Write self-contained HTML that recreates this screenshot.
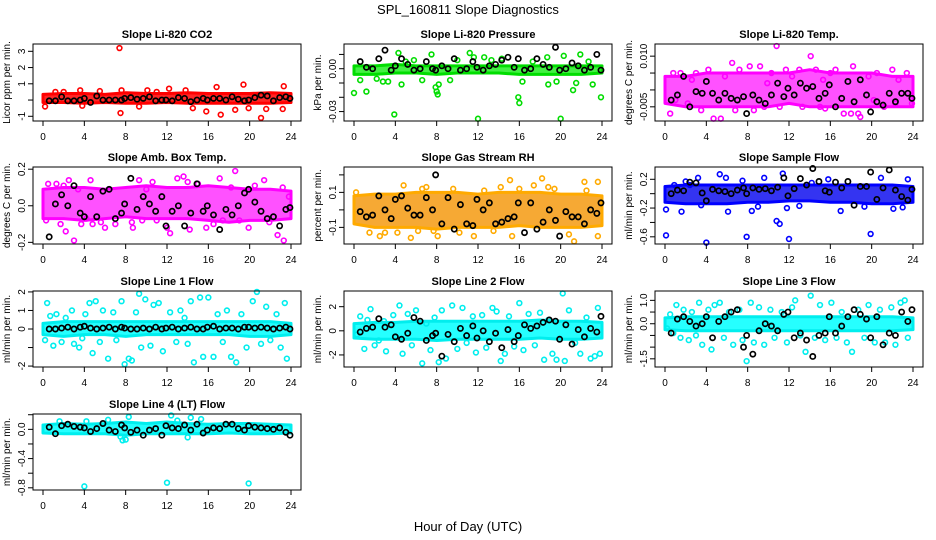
<!DOCTYPE html>
<html><head><meta charset="utf-8"><style>
html,body{margin:0;padding:0;background:#fff;}
svg{display:block;font-family:"Liberation Sans",sans-serif;}
</style></head><body>
<svg id="chart" width="936" height="540" viewBox="0 0 936 540" xmlns="http://www.w3.org/2000/svg">
<rect x="0" y="0" width="936" height="540" fill="#fff"/>
<text x="468" y="14" text-anchor="middle" font-size="13">SPL_160811  Slope Diagnostics</text>
<text x="468" y="531" text-anchor="middle" font-size="13">Hour of Day (UTC)</text>
</svg>
<script>
// shared categories
const bandHours = [0,2,4,6,8,10,12,14,16,18,20,22,24];
const blkHours = [0.6,1.2,1.8,2.4,3.0,3.6,4.0,4.6,5.2,5.8,6.4,7.0,7.6,7.9,8.5,9.1,9.7,10.3,10.9,11.5,11.9,12.5,13.1,13.7,14.3,14.9,15.5,15.9,16.5,17.1,17.7,18.3,18.9,19.5,19.9,20.5,21.1,21.7,22.3,22.9,23.5,23.9];
const xTickLabels = [0,4,8,12,16,20,24];

// P1 CO2
const co2BandHi = [0.35,0.4,0.4,0.35,0.45,0.4,0.4,0.45,0.4,0.4,0.4,0.45,0.4];
const co2BandLo = [-0.15,-0.15,-0.2,-0.15,-0.2,-0.2,-0.15,-0.2,-0.2,-0.2,-0.2,-0.2,-0.15];
const co2OutX = [0.2,1.2,3.6,3.8,7.4,7.5,7.6,9.3,10.1,12.2,13.8,14.5,15.8,16.8,17.2,18.6,19.4,19.9,21.1,21.6,23.2,23.3,2.0,5.5,11.0];
const co2OutY = [-0.4,0.5,0.6,-0.35,3.2,-0.8,0.6,-0.4,0.6,0.7,0.6,-0.5,-0.7,0.8,-0.9,-0.6,0.95,-0.5,-1.1,-0.55,-0.55,0.85,0.5,0.55,0.5];
const co2BlkY = [-0.05,-0.05,0.2,-0.05,-0.05,0,0.1,-0.15,0.25,0,0,0,0,0.1,0.15,0.05,0.1,0.2,-0.05,0,0,-0.05,0.15,0.1,-0.1,0,0.1,0,0.1,0.1,0,0.2,0.05,-0.05,0,0.15,0.3,0.25,-0.05,0.15,0.2,0.1];
const co2Ticks = [-1,0,1,2,3];
const co2TickLabels = ["-1","","1","2","3"];

// P2 Pressure
const presBandHi = [0.002,0.002,0.003,0.002,0.002,0.002,0.002,0.002,0.002,0.002,0.002,0.002,0.002];
const presBandLo = [-0.004,-0.004,-0.003,-0.003,-0.004,-0.003,-0.003,-0.003,-0.004,-0.004,-0.004,-0.004,-0.003];
const presOutX = [0,0.6,1.2,2.2,2.8,3.3,3.9,4.3,4.6,5.0,6.6,7.5,7.9,8.0,8.1,8.2,9.3,11.2,11.6,12.0,12.6,13.3,15.9,16.0,16.3,17.3,18.7,18.8,19.6,20.0,20.3,21.2,21.5,21.9,22.7,23.1,23.9,5.8,14.3,10.0];
const presOutY = [-0.017,-0.008,-0.016,-0.007,-0.009,-0.009,-0.032,0.011,-0.011,0.005,-0.008,0.010,-0.013,-0.016,-0.018,-0.011,-0.008,0.011,0.008,-0.035,0.008,0.006,-0.020,-0.024,-0.009,0.005,0.008,-0.011,-0.009,-0.035,0.009,-0.015,-0.010,0.010,0.005,-0.011,-0.020,0.006,0.007,0.006];
const presBlkY = [0.005,0.001,0,0.007,0.013,-0.001,0.002,0.007,0.003,-0.001,0,0.005,0,-0.001,0.002,0,0.007,-0.001,0,0.005,0.001,-0.001,0.002,0.003,0.006,0.008,0.001,0.007,-0.001,0,0.007,0.003,0.001,0.015,-0.001,0,0.004,0.002,-0.001,0.001,0.010,-0.001];
const presTicks = [0.01,0,-0.01,-0.02,-0.03];
const presTickLabels = ["","0.00","","","-0.03"];

// P3 Li-820 Temp
const tempBandHi = [0.004,0.004,0.005,0.005,0.005,0.005,0.005,0.006,0.005,0.005,0.005,0.004,0.004];
const tempBandLo = [-0.004,-0.005,-0.005,-0.005,-0.005,-0.005,-0.004,-0.005,-0.005,-0.005,-0.005,-0.005,-0.005];
const tempOutX = [0.5,0.8,1.5,2.2,3.0,3.5,4.2,4.7,5.4,5.8,6.5,6.8,7.2,8.2,8.6,9.2,9.6,10.3,10.8,11.1,11.7,12.3,13.3,14.1,14.6,15.0,15.3,15.5,16.5,17.3,18.0,18.2,18.7,18.9,19.7,20.5,21.2,22.0,22.6,23.4,23.9,1.0,2.6,9.9,13.0,16.0,20.2,22.3];
const tempOutY = [-0.007,0.005,0.005,-0.004,0.005,-0.006,0.006,-0.0085,-0.0085,0.004,0.008,-0.006,0.006,0.007,-0.006,0.007,-0.005,0.005,0.013,-0.005,0.006,0.004,-0.005,0.010,0.006,-0.005,0.003,-0.0055,0.006,-0.007,-0.007,0.007,-0.007,-0.008,0.004,0.005,-0.005,0.006,0.003,0.005,-0.004,-0.003,0.003,0.002,0.006,0.005,-0.003,-0.004];
const tempBlkY = [-0.003,-0.0015,0.004,-0.005,-0.0005,-0.001,0.0025,-0.001,-0.003,-0.001,-0.0025,-0.003,-0.002,-0.007,-0.0015,-0.003,-0.004,-0.0015,0.002,-0.002,0.0005,-0.0015,0.002,0.0005,0.001,-0.0025,-0.001,0.0015,-0.005,-0.0025,0.0025,-0.0035,0.003,-0.0015,-0.0065,-0.0035,-0.0045,-0.001,-0.0035,-0.001,-0.001,-0.0025];
const tempTicks = [0.010,0.005,0,-0.005];
const tempTickLabels = ["0.010","","","-0.005"];

// P4 Amb Box Temp
const boxBandHi = [0.09,0.1,0.1,0.09,0.1,0.11,0.1,0.1,0.11,0.1,0.09,0.09,0.08];
const boxBandLo = [-0.07,-0.07,-0.08,-0.07,-0.06,-0.07,-0.07,-0.07,-0.08,-0.09,-0.08,-0.08,-0.07];
const boxOutX = [0.3,0.5,1.3,1.7,2.0,2.2,2.5,3.0,3.4,3.7,4.6,4.8,5.6,6.0,6.4,7.0,8.6,8.7,9.3,9.6,10.0,10.6,11.0,12.0,12.3,13.0,13.6,14.2,15.0,15.8,16.5,17.1,17.4,18.2,18.6,19.0,19.9,20.5,21.4,21.9,22.7,23.2,23.3,23.8,4.2,14.0];
const boxOutY = [-0.08,0.12,0.12,-0.10,0.11,-0.14,0.14,-0.19,0.09,-0.10,0.14,-0.10,-0.09,-0.12,0.09,-0.10,-0.09,-0.12,0.14,-0.08,0.09,0.13,-0.08,-0.12,-0.15,0.15,0.16,-0.13,0.12,-0.12,-0.10,0.15,-0.08,0.10,0.19,-0.08,-0.12,0.11,0.14,-0.09,-0.16,0.10,-0.19,0.05,-0.07,0.13];
const boxBlkY = [-0.17,0.01,0.06,0,0.11,-0.04,-0.06,0.05,-0.06,0.08,0.09,-0.07,-0.04,0.01,0.15,-0.02,0.05,0.01,-0.03,0.05,-0.11,-0.03,0,-0.11,-0.04,0.12,-0.03,0,-0.05,-0.13,-0.02,-0.05,0,0.07,0.09,0.02,-0.03,-0.07,-0.06,-0.11,-0.02,-0.01];
const boxTicks = [0.2,0,-0.2];
const boxTickLabels = ["0.2","0.0","-0.2"];

// P5 Gas Stream RH
const rhBandHi = [0.08,0.09,0.09,0.1,0.1,0.1,0.09,0.1,0.1,0.1,0.09,0.09,0.08];
const rhBandLo = [-0.08,-0.1,-0.1,-0.1,-0.11,-0.1,-0.1,-0.1,-0.09,-0.1,-0.1,-0.1,-0.09];
const rhOutX = [0.2,1.5,2.5,3.0,4.2,4.8,5.5,6.2,7.0,7.7,8.1,9.6,10.2,11.6,13.5,14.2,15.1,15.3,16.0,17.4,18.2,18.8,19.4,20.8,21.3,22.3,22.5,23.6,23.6,12.6,6.6];
const rhOutY = [0.1,-0.13,-0.15,-0.13,-0.13,0.14,-0.16,-0.12,0.13,-0.12,-0.15,0.12,-0.13,-0.15,-0.12,0.13,0.17,-0.15,0.12,0.14,0.18,0.13,0.12,-0.14,-0.18,0.16,0.11,0.16,-0.15,0.11,0.12];
const rhBlkY = [-0.01,-0.04,-0.03,0.08,0,-0.05,0.06,0.08,0.01,-0.03,-0.03,0.07,0,0.2,-0.08,0.07,-0.11,0.03,-0.08,-0.09,0.06,0,0.04,-0.08,-0.07,-0.05,-0.04,0.04,-0.13,0.04,-0.11,-0.07,0,-0.06,-0.15,-0.01,-0.04,-0.04,-0.08,0,-0.02,0.04];
const rhTicks = [0.2,0.1,0,-0.1];
const rhTickLabels = ["","0.1","","-0.1"];

// P6 Sample Flow
const sfBandHi = [0.1,0.12,0.12,0.12,0.12,0.12,0.12,0.12,0.12,0.12,0.12,0.12,0.1];
const sfBandLo = [-0.12,-0.14,-0.14,-0.14,-0.12,-0.12,-0.1,-0.1,-0.12,-0.12,-0.14,-0.14,-0.12];
const sfOutX = [0.1,0.1,0.9,1.6,2.4,3.2,3.5,4.0,5.3,5.9,6.1,7.5,7.9,8.4,9.6,10.8,11.1,11.4,11.8,12.0,13.0,15.8,17.0,19.3,19.9,20.9,22.1,23.0,23.5,2.0,14.2,9.0];
const sfOutY = [-0.22,-0.58,0.12,-0.25,0.12,0.22,-0.16,-0.68,0.27,0.22,-0.25,0.18,-0.6,-0.24,0.22,-0.38,-0.42,0.28,-0.20,-0.63,-0.17,0.2,-0.24,-0.18,-0.56,0.22,-0.21,-0.19,0.2,0.17,0.15,-0.18];
const sfBlkY = [0,0.05,0.04,0.16,0.15,0.01,-0.1,0.06,0.04,0.03,0,0.05,0.08,0,0.08,0.06,0.07,0.04,0.09,0.22,-0.03,0.07,0.21,0.12,0.35,0.17,0.04,0.02,0.16,0.08,0.17,-0.16,0.1,0.1,0.3,-0.08,0.08,0.33,0.05,-0.04,-0.09,0.06];
const sfTicks = [0.2,0,-0.2,-0.4,-0.6];
const sfTickLabels = ["0.2","","-0.2","","-0.6"];

// P7 Line 1
const l1BandHi = [0.3,0.4,0.4,0.4,0.4,0.4,0.4,0.4,0.4,0.4,0.4,0.4,0.3];
const l1BandLo = [-0.3,-0.4,-0.3,-0.3,-0.4,-0.3,-0.3,-0.3,-0.3,-0.3,-0.4,-0.4,-0.3];
const l1OutX = [0.2,0.4,0.7,1.0,1.3,1.8,2.2,2.8,3.0,3.5,4.1,4.5,4.8,5.1,5.5,5.8,6.3,6.8,7.1,7.6,7.9,8.3,8.6,9.0,9.3,9.5,9.9,10.4,10.7,11.2,11.6,12.3,12.9,13.3,14.0,14.3,14.6,15.2,15.5,16.0,16.5,16.9,17.4,17.8,18.2,18.7,19.2,19.7,20.3,20.7,21.1,21.6,22.0,22.6,23.0,23.4,23.6,3.8,13.7];
const l1OutY = [-0.6,1.4,0.7,-0.9,0.8,-0.7,0.6,1.0,-0.8,-1.0,0.8,1.4,-1.3,1.5,-0.7,1.0,-1.6,0.9,-0.6,1.5,-1.9,-1.6,-1.7,0.9,1.9,-1.0,1.6,-0.9,1.3,1.4,-1.2,0.9,-0.7,1.0,-0.8,1.5,-1.8,1.7,-1.5,1.7,-1.5,0.8,-0.7,1.0,-1.5,-1.8,0.8,-1.0,1.5,2.0,-0.8,1.2,-0.6,0.8,-1.0,1.4,-1.6,-0.5,0.6];
const l1BlkY = [0,0,0.05,0.1,0,0.1,0.15,0.05,0,0.05,0.1,0,0.1,0.05,0,0,0.05,0,0.1,0,0.05,0.1,0,0.05,0.1,0,0,0.1,0.15,0,0.05,0.05,0,0.1,0.1,0.05,0.1,0.05,0,0.05,0.1,0];
const l1Ticks = [2,1,0,-1,-2];
const l1TickLabels = ["2","1","0","","-2"];

// P8 Line 2
const l2BandHi = [0.6,0.7,0.7,0.8,0.8,0.8,0.8,0.8,0.8,0.9,0.8,0.8,0.7];
const l2BandLo = [-0.6,-0.7,-0.7,-0.7,-0.8,-0.7,-0.7,-0.7,-0.7,-0.6,-0.7,-0.7,-0.6];
const l2OutX = [0.3,0.6,1.0,1.3,1.6,2.0,2.4,2.9,3.1,3.8,4.4,4.7,5.2,5.6,6.0,6.6,7.0,7.4,7.8,8.2,8.5,8.9,9.5,10.0,10.5,10.9,11.5,11.8,12.4,12.8,13.4,13.8,14.2,14.6,15.0,15.5,16.0,16.4,16.9,17.5,18.0,18.4,18.8,19.2,19.6,20.2,20.4,20.8,21.4,21.9,22.5,22.9,23.3,23.6,23.8];
const l2OutY = [-0.3,1.2,-1.5,0.9,1.8,-1.2,-0.8,0.8,-1.7,1.3,2.1,-1.9,1.4,-1.2,1.7,-2.7,0.6,-1.6,1.1,-2.6,1.7,-2.3,2.1,-1.5,1.9,-1.0,1.2,-1.8,1.3,-1.4,1.9,1.6,-2.5,-1.9,1.2,-1.3,2.3,-1.6,1.4,-1.2,1.5,-2.4,0.9,-1.9,-2.4,3.1,-2.5,1.7,-1.0,-1.9,1.1,-2.3,-2.1,1.9,-1.9];
const l2BlkY = [-0.1,0.2,0.3,1.0,0.3,0.5,-0.5,-0.7,-0.2,1.1,0.8,-0.8,-0.4,-0.2,-2.1,-0.3,-0.9,0.2,-0.4,0.4,-0.6,0,-0.9,-0.2,-1.4,0.1,-0.9,-0.4,0.5,0.2,0.4,0.7,0.9,0.8,-0.7,0.5,-1.1,0.1,-0.5,0.2,-0.1,1.2];
const l2Ticks = [2,0,-2];
const l2TickLabels = ["2","0","-2"];

// P9 Line 3
const l3BandHi = [0.25,0.3,0.3,0.3,0.3,0.3,0.3,0.3,0.3,0.3,0.3,0.3,0.25];
const l3BandLo = [-0.25,-0.3,-0.3,-0.3,-0.3,-0.3,-0.3,-0.3,-0.3,-0.3,-0.3,-0.3,-0.25];
const l3OutX = [0.2,0.5,0.8,1.1,1.5,1.8,2.3,2.6,3.0,3.3,3.6,4.2,4.5,4.8,5.3,5.7,6.2,6.6,7.2,7.5,7.9,8.3,8.6,9.1,9.6,10.2,10.6,11.3,11.8,12.3,12.6,13.1,13.6,14.1,14.5,15.0,15.5,16.1,16.6,17.1,17.6,18.1,18.7,19.3,19.7,20.3,20.8,21.3,21.9,22.3,22.8,23.2,23.5];
const l3OutY = [-0.2,0.4,-0.4,0.8,-0.6,0.6,-0.7,0.5,-0.5,0.9,-0.9,0.6,-1.1,0.8,0.9,-0.6,0.5,-0.9,0.6,-0.7,-1.6,0.9,-0.8,0.7,-0.9,0.6,-0.6,0.5,-0.8,0.7,1.0,-0.5,-1.2,1.2,-0.6,0.8,-0.7,0.9,-0.6,0.5,-0.8,-1.2,0.6,-0.6,0.8,-0.8,0.6,-0.8,0.7,-0.9,0.9,1.0,-0.6];
const l3BlkY = [-0.4,0.2,0.3,0.1,-0.1,0,0.3,-0.6,0.1,0.3,0.5,0.6,-1.0,-0.5,-1.3,-0.3,0,-0.1,-0.3,0.4,0.5,-0.6,-0.4,-0.7,-1.4,-0.5,-0.4,0.3,-0.4,-0.1,0.3,0.6,0.4,0.2,-0.6,0.3,-0.9,-0.4,-0.5,0.5,0.1,0.6];
const l3Ticks = [1.0,0.5,0,-0.5,-1.0,-1.5];
const l3TickLabels = ["1.0","","0.0","","","-1.5"];

// P10 Line 4
const l4BandHi = [0.06,0.08,0.07,0.08,0.1,0.08,0.1,0.08,0.07,0.08,0.08,0.07,0.06];
const l4BandLo = [-0.05,-0.06,-0.06,-0.06,-0.08,-0.06,-0.06,-0.06,-0.06,-0.05,-0.06,-0.06,-0.05];
const l4OutX = [4.0,12.0,19.9,7.7,8.0,7.5,8.3,12.4,13.0,14.3,15.3,14.0,6.3,4.2,1.6];
const l4OutY = [-0.78,-0.73,-0.74,-0.15,-0.14,-0.1,0.17,0.19,0.12,0.16,0.14,-0.11,0.13,0.11,0.11];
const l4BlkY = [0.03,-0.06,0.05,0.07,0.04,0.03,0.02,-0.03,0.01,0.08,-0.01,-0.03,0.06,0.02,-0.04,-0.01,-0.08,-0.01,0.01,-0.08,0.05,0.02,0.01,0.06,-0.01,0.07,-0.05,-0.01,0.02,0.01,0.07,0.07,0.01,-0.01,0.05,0.03,0.02,0.01,0,0.02,-0.04,-0.08];
const l4Ticks = [0.2,0,-0.2,-0.4,-0.6,-0.8];
const l4TickLabels = ["","0.0","","-0.4","","-0.8"];

const NS = "http://www.w3.org/2000/svg";
const svg = document.getElementById('chart');
function mk(tag, attrs, parent){const e=document.createElementNS(NS,tag);for(const k in attrs)e.setAttribute(k,attrs[k]);(parent||svg).appendChild(e);return e;}

const colX = [33,344,655];
const rowY = [[44,121],[167,244],[291,367],[414,490]];
const panels = [
 {key:'co2',title:'Slope Li-820 CO2',ylab:'Licor ppm per min.',c:0,r:0,dom:[-1.29,3.45],col:'#ff0000',band:'#ff0000',hi:co2BandHi,lo:co2BandLo,ox:co2OutX,oy:co2OutY,by:co2BlkY,t:co2Ticks,tl:co2TickLabels},
 {key:'pressure',title:'Slope Li-820 Pressure',ylab:'kPa per min.',c:1,r:0,dom:[-0.0366,0.0173],col:'#00dd00',band:'#22ee22',hi:presBandHi,lo:presBandLo,ox:presOutX,oy:presOutY,by:presBlkY,t:presTicks,tl:presTickLabels},
 {key:'li820-temp',title:'Slope Li-820 Temp.',ylab:'degrees C per min.',c:2,r:0,dom:[-0.0092,0.0136],col:'#ff00ff',band:'#ff33ff',hi:tempBandHi,lo:tempBandLo,ox:tempOutX,oy:tempOutY,by:tempBlkY,t:tempTicks,tl:tempTickLabels},
 {key:'amb-box-temp',title:'Slope Amb. Box Temp.',ylab:'degrees C per min.',c:0,r:1,dom:[-0.209,0.212],col:'#ff00ff',band:'#ff33ff',hi:boxBandHi,lo:boxBandLo,ox:boxOutX,oy:boxOutY,by:boxBlkY,t:boxTicks,tl:boxTickLabels},
 {key:'gas-rh',title:'Slope Gas Stream RH',ylab:'percent per min.',c:1,r:1,dom:[-0.195,0.245],col:'#ffaa00',band:'#f59a10',hi:rhBandHi,lo:rhBandLo,ox:rhOutX,oy:rhOutY,by:rhBlkY,t:rhTicks,tl:rhTickLabels},
 {key:'sample-flow',title:'Slope Sample Flow',ylab:'ml/min per min.',c:2,r:1,dom:[-0.70,0.371],col:'#0000ff',band:'#1111ee',hi:sfBandHi,lo:sfBandLo,ox:sfOutX,oy:sfOutY,by:sfBlkY,t:sfTicks,tl:sfTickLabels},
 {key:'line1-flow',title:'Slope Line 1 Flow',ylab:'ml/min per min.',c:0,r:2,dom:[-2.05,2.05],col:'#00eeee',band:'#00ffff',hi:l1BandHi,lo:l1BandLo,ox:l1OutX,oy:l1OutY,by:l1BlkY,t:l1Ticks,tl:l1TickLabels},
 {key:'line2-flow',title:'Slope Line 2 Flow',ylab:'ml/min per min.',c:1,r:2,dom:[-3.0,3.3],col:'#00eeee',band:'#00ffff',hi:l2BandHi,lo:l2BandLo,ox:l2OutX,oy:l2OutY,by:l2BlkY,t:l2Ticks,tl:l2TickLabels},
 {key:'line3-flow',title:'Slope Line 3 Flow',ylab:'ml/min per min.',c:2,r:2,dom:[-1.85,1.4],col:'#00eeee',band:'#00ffff',hi:l3BandHi,lo:l3BandLo,ox:l3OutX,oy:l3OutY,by:l3BlkY,t:l3Ticks,tl:l3TickLabels},
 {key:'line4-flow',title:'Slope Line 4 (LT) Flow',ylab:'ml/min per min.',c:0,r:3,dom:[-0.83,0.21],col:'#00eeee',band:'#00ffff',hi:l4BandHi,lo:l4BandLo,ox:l4OutX,oy:l4OutY,by:l4BlkY,t:l4Ticks,tl:l4TickLabels}
];

panels.forEach(p=>{
  const L=colX[p.c], R=L+268, T=rowY[p.r][0], B=rowY[p.r][1];
  const x0=L+10, x1=L+258;
  const xs=h=>x0+(x1-x0)*h/24;
  const ys=v=>B-(v-p.dom[0])/(p.dom[1]-p.dom[0])*(B-T);
  const g=mk('g',{});
  
  
  const t=mk('text',{x:(L+R)/2,y:T-6,'text-anchor':'middle','font-size':11,'font-weight':'bold'},g);
  t.textContent=p.title;
  
  
  // band
  let d='';
  bandHours.forEach((h,i)=>{d+=(i?'L':'M')+xs(h).toFixed(1)+','+ys(p.hi[i]).toFixed(1);});
  for(let i=bandHours.length-1;i>=0;i--) d+='L'+xs(bandHours[i]).toFixed(1)+','+ys(p.lo[i]).toFixed(1);
  const band=mk('path',{d:d+'Z',fill:p.band,'fill-opacity':0.85,stroke:p.col,'stroke-width':3,'stroke-linejoin':'round'},g);
  
  
  // outliers
  const n=Math.min(p.ox.length,p.oy.length);
  for(let i=0;i<n;i++){
    const c=mk('circle',{cx:xs(p.ox[i]),cy:ys(p.oy[i]),r:2.4,fill:'none',stroke:p.col,'stroke-width':1.6},g);
    
    
  }
  // black points
  const m=Math.min(blkHours.length,p.by.length);
  for(let i=0;i<m;i++){
    const c=mk('circle',{cx:xs(blkHours[i]),cy:ys(p.by[i]),r:2.6,fill:'none',stroke:'#000','stroke-width':1.7},g);
    
    
  }
  // frame
  const fr=mk('rect',{x:L,y:T,width:R-L,height:B-T,fill:'none',stroke:'#000','stroke-width':1},g);
  
  
  // x axis ticks
  xTickLabels.forEach(h=>{
    mk('line',{x1:xs(h),x2:xs(h),y1:B,y2:B+5,stroke:'#000','stroke-width':1},g);
    const tx=mk('text',{x:xs(h),y:B+19,'text-anchor':'middle','font-size':10},g);
    tx.textContent=h;
    
    
  });
  // y axis ticks
  p.t.forEach((v,i)=>{
    const y=ys(v);
    mk('line',{x1:L-5,x2:L,y1:y,y2:y,stroke:'#000','stroke-width':1},g);
    if(p.tl[i]){
      const ty=mk('text',{x:L-8,y:y,'text-anchor':'middle','font-size':10,transform:'rotate(-90 '+(L-8)+' '+y+')'},g);
      ty.textContent=p.tl[i];
      
      
    }
  });
  const yl=mk('text',{x:L-23,y:(T+B)/2,'text-anchor':'middle','font-size':10,transform:'rotate(-90 '+(L-23)+' '+((T+B)/2)+')'},g);
  yl.textContent=p.ylab;
  
  
});
</script>
</body></html>
